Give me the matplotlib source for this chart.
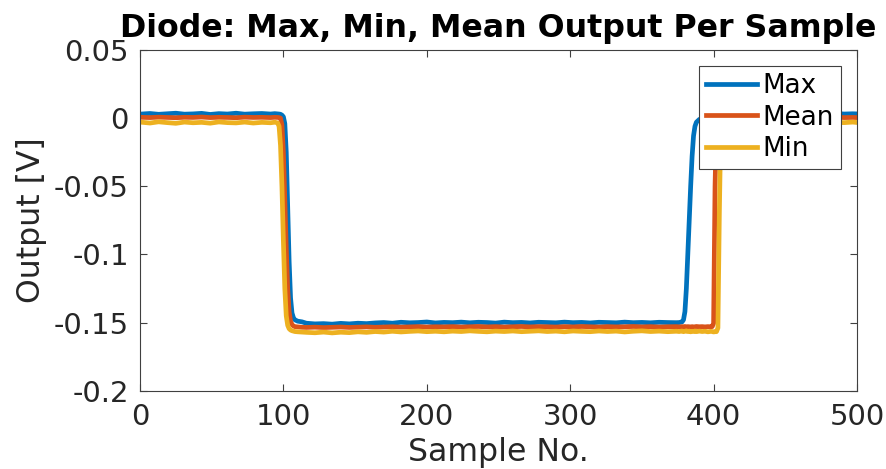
import matplotlib
matplotlib.use('Agg')
import matplotlib.pyplot as plt

# sample numbers where values were read (denser around the steps)
sample_no = (list(range(1, 92, 6))
             + [94, 96, 97, 98, 99, 100, 101, 102, 103, 104, 105, 106, 107, 108, 110, 113]
             + list(range(116, 375, 6))
             + [376, 378, 379, 380, 381, 382, 383, 384, 385, 386, 387, 388, 390, 392,
                394, 396, 398, 399, 400, 401, 402, 403, 404, 405, 406, 408, 410]
             + list(range(413, 498, 6)) + [500])

out_max = ([0.0030, 0.0034, 0.0028, 0.0032, 0.0036, 0.0029, 0.0031, 0.0035,
            0.0027, 0.0033, 0.0030, 0.0036, 0.0029, 0.0032, 0.0034, 0.0030]
           + [0.0033, 0.0031, 0.0030, 0.0028, 0.0022, 0.0010, -0.0040, -0.0250,
              -0.0650, -0.1050, -0.1320, -0.1430, -0.1465, -0.1480, -0.1490, -0.1495]
           + [-0.1505, -0.1510, -0.1508, -0.1512, -0.1506, -0.1510, -0.1505, -0.1508,
              -0.1503, -0.1500, -0.1505, -0.1498, -0.1502, -0.1500, -0.1496, -0.1503,
              -0.1499, -0.1501, -0.1497, -0.1502, -0.1498, -0.1500, -0.1504, -0.1497,
              -0.1501, -0.1499, -0.1503, -0.1498, -0.1500, -0.1502, -0.1497, -0.1501,
              -0.1499, -0.1503, -0.1498, -0.1500, -0.1502, -0.1497, -0.1501, -0.1499,
              -0.1502, -0.1498, -0.1500, -0.1501]
           + [-0.1500, -0.1495, -0.1480, -0.1420, -0.1250, -0.1000, -0.0750, -0.0500,
              -0.0280, -0.0130, -0.0060, -0.0030, -0.0010, 0.0000, 0.0008, 0.0012,
              0.0015, 0.0017, 0.0018, 0.0020, 0.0021, 0.0022, 0.0023, 0.0024,
              0.0025, 0.0026, 0.0027]
           + [0.0029, 0.0033, 0.0027, 0.0031, 0.0035, 0.0028, 0.0032, 0.0030,
              0.0034, 0.0027, 0.0031, 0.0029, 0.0035, 0.0030, 0.0032, 0.0031])

out_mean = ([0.0006, 0.0004, 0.0007, 0.0005, 0.0003, 0.0006, 0.0005, 0.0008,
             0.0004, 0.0006, 0.0005, 0.0003, 0.0007, 0.0005, 0.0006, 0.0004]
            + [0.0006, 0.0005, 0.0004, 0.0000, -0.0050, -0.0250, -0.0600, -0.0950,
               -0.1250, -0.1420, -0.1490, -0.1515, -0.1525, -0.1530, -0.1532, -0.1535]
            + [-0.1536, -0.1534, -0.1537, -0.1535, -0.1533, -0.1536, -0.1534, -0.1532,
               -0.1535, -0.1533, -0.1531, -0.1534, -0.1532, -0.1530, -0.1533, -0.1531,
               -0.1532, -0.1530, -0.1533, -0.1531, -0.1529, -0.1532, -0.1530, -0.1533,
               -0.1531, -0.1529, -0.1532, -0.1530, -0.1531, -0.1533, -0.1530, -0.1532,
               -0.1529, -0.1531, -0.1533, -0.1530, -0.1532, -0.1531, -0.1529, -0.1532,
               -0.1530, -0.1533, -0.1531, -0.1530]
            + [-0.1532, -0.1530, -0.1531, -0.1529, -0.1532, -0.1530, -0.1531, -0.1533,
               -0.1530, -0.1532, -0.1531, -0.1529, -0.1531, -0.1530, -0.1532, -0.1530,
               -0.1531, -0.1530, -0.1505, -0.0500, -0.0040, 0.0000, 0.0003, 0.0004,
               0.0005, 0.0005, 0.0006]
            + [0.0004, 0.0006, 0.0003, 0.0005, 0.0007, 0.0004, 0.0006, 0.0005,
               0.0003, 0.0006, 0.0004, 0.0005, 0.0007, 0.0004, 0.0005, 0.0004])

out_min = ([-0.0030, -0.0036, -0.0027, -0.0033, -0.0038, -0.0029, -0.0034, -0.0031,
            -0.0037, -0.0028, -0.0033, -0.0035, -0.0029, -0.0036, -0.0031, -0.0034]
           + [-0.0030, -0.0035, -0.0060, -0.0200, -0.0500, -0.0900, -0.1250, -0.1450,
              -0.1520, -0.1545, -0.1555, -0.1560, -0.1563, -0.1566, -0.1568, -0.1570]
           + [-0.1572, -0.1575, -0.1570, -0.1576, -0.1571, -0.1574, -0.1568, -0.1572,
              -0.1566, -0.1570, -0.1564, -0.1569, -0.1565, -0.1562, -0.1567, -0.1564,
              -0.1568, -0.1563, -0.1566, -0.1561, -0.1565, -0.1568, -0.1563, -0.1566,
              -0.1562, -0.1567, -0.1564, -0.1561, -0.1566, -0.1563, -0.1568, -0.1562,
              -0.1565, -0.1567, -0.1562, -0.1566, -0.1563, -0.1569, -0.1564, -0.1561,
              -0.1566, -0.1563, -0.1567, -0.1564]
           + [-0.1566, -0.1562, -0.1567, -0.1564, -0.1561, -0.1566, -0.1563, -0.1568,
              -0.1564, -0.1566, -0.1562, -0.1567, -0.1563, -0.1566, -0.1564, -0.1568,
              -0.1565, -0.1566, -0.1569, -0.1567, -0.1567, -0.1540, -0.0700, -0.0060,
              -0.0035, -0.0030, -0.0032]
           + [-0.0034, -0.0029, -0.0036, -0.0031, -0.0027, -0.0035, -0.0032, -0.0037,
              -0.0030, -0.0034, -0.0028, -0.0036, -0.0031, -0.0033, -0.0029, -0.0032])

series_names = ['Max', 'Mean', 'Min']
series_colors = ['#0072BD', '#D95319', '#EDB120']

text_col = '#262626'
plt.rcParams['font.family'] = 'DejaVu Sans'

fig = plt.figure(figsize=(8.87, 4.69), dpi=100)
ax = fig.add_axes([0.1578, 0.1670, 0.8084, 0.7264])

for vals, name, col in zip([out_max, out_mean, out_min], series_names, series_colors):
    ax.plot(sample_no, vals, color=col, lw=3.4, label=name, solid_joinstyle='round')

ax.set_xlim(0, 500)
ax.set_ylim(-0.2, 0.05)
ax.set_xticks([0, 100, 200, 300, 400, 500])
ax.set_yticks([-0.2, -0.15, -0.1, -0.05, 0, 0.05])
ax.set_yticklabels(['-0.2', '-0.15', '-0.1', '-0.05', '0', '0.05'])

for s in ax.spines.values():
    s.set_color('#404040')
    s.set_linewidth(0.8)
ax.tick_params(direction='in', length=5, width=0.8, color='#404040',
               top=True, right=True, labelsize=21, labelcolor=text_col)
ax.tick_params(axis='x', pad=9)
ax.tick_params(axis='y', pad=8)

ax.set_title('Diode: Max, Min, Mean Output Per Sample', fontsize=22.8,
             fontweight='bold', color='black', pad=9)
ax.set_xlabel('Sample No.', fontsize=22.7, color=text_col, labelpad=4.5)
ax.set_ylabel('Output [V]', fontsize=22.7, color=text_col, labelpad=5)

leg = ax.legend(loc='upper right', bbox_to_anchor=(0.978, 0.953), borderaxespad=0,
                fontsize=18.8, handlelength=1.95, handletextpad=0.2, labelspacing=0.2,
                borderpad=0.28, fancybox=False, framealpha=1, edgecolor='#404040')
leg.get_frame().set_linewidth(0.8)

fig.savefig('out.png', dpi=100)
